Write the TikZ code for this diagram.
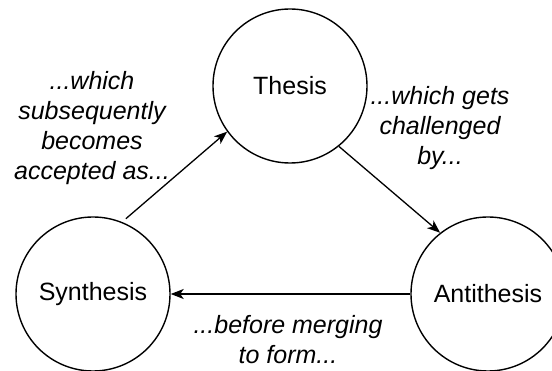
\documentclass[tikz,border=0pt]{standalone}
\usepackage{fontspec}
\setmainfont{Liberation Sans}
\usetikzlibrary{arrows.meta}
\begin{document}
\begin{tikzpicture}[x=1pt,y=-1pt,
  stage/.style={draw, circle, minimum size=154pt, inner sep=0pt, line width=1.4pt,
    font=\fontsize{25}{30}\selectfont},
  flow/.style={line width=1.3pt, -{Stealth[length=13pt,width=10pt,inset=3.5pt]}},
  note/.style={align=center, inner sep=0pt, font=\fontsize{25}{30}\selectfont\itshape}]
\useasboundingbox (0,0) rectangle (552,371);

% the three stages of the dialectic
\node[stage] (thesis) at (290,86) {Thesis};
\node[stage] (synthesis) at (93,294) {Synthesis};
\node[stage] (antithesis) at (488,294) {Antithesis};

% the cycle
\draw[flow, shorten <=5pt] (synthesis.68) -- (thesis.216);
\draw[flow] (thesis.309) -- (antithesis.128);
\draw[flow] (antithesis.west) -- (synthesis.east);

% edge descriptions
\node[note] (lblaccept) at (92,128) {...which\\subsequently\\becomes\\accepted as...};
\node[note] (lblchallenge) at (440,128) {...which gets\\challenged\\by...};
\node[note] (lblmerge) at (288,340) {...before merging\\to form...};
\end{tikzpicture}
\end{document}
